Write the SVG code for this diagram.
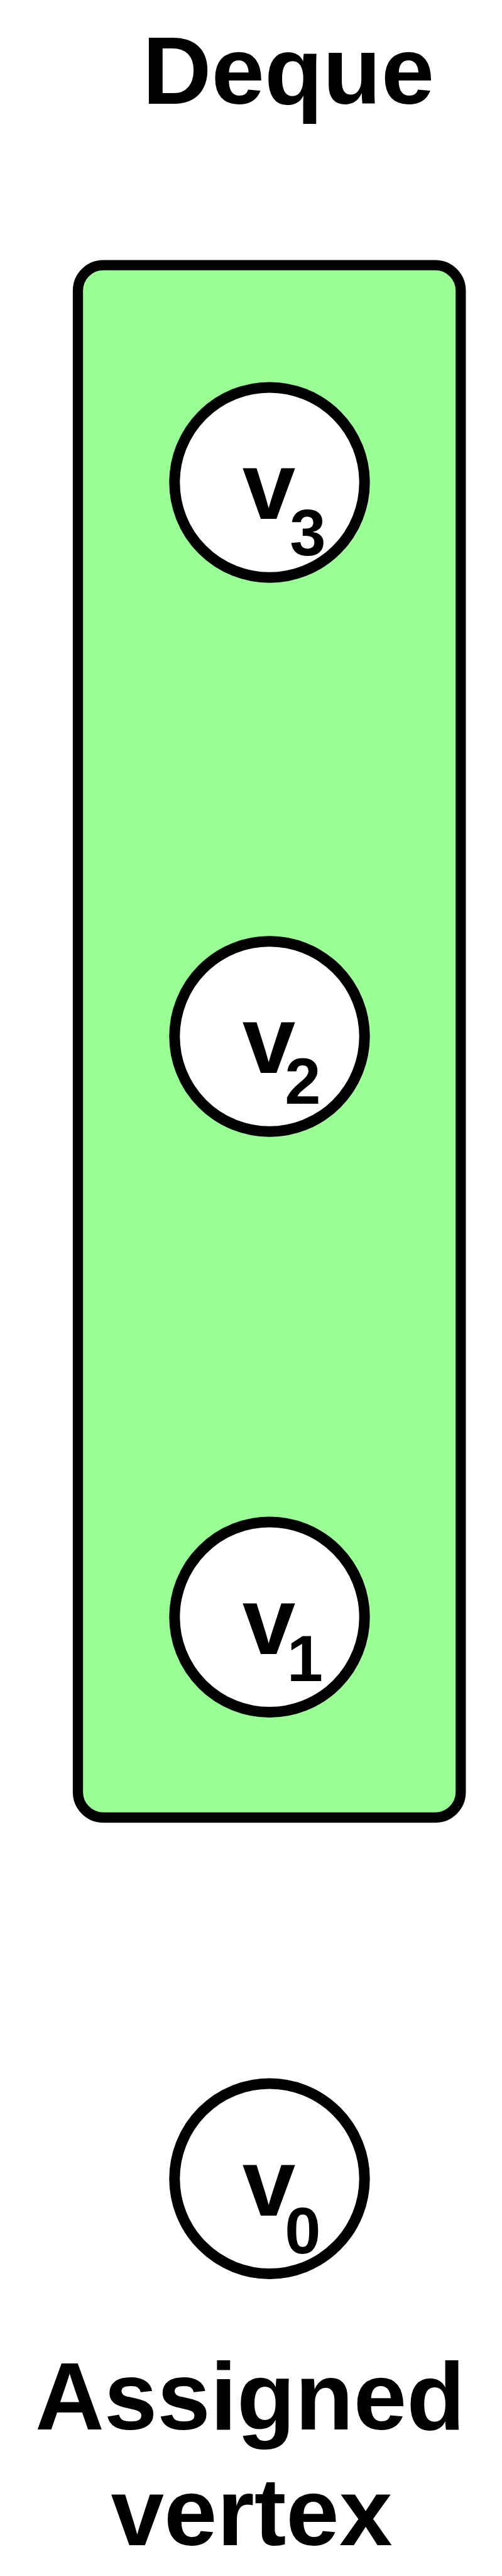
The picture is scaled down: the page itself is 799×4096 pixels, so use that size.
<svg xmlns="http://www.w3.org/2000/svg" width="799" height="4096" viewBox="0 0 799 4096">
<style>
  .lbl { font-family: "Liberation Sans", Arial, sans-serif; font-weight: bold; fill: #000; text-anchor: middle; }
  .big { font-size: 152px; }
  .v { font-size: 152px; }
  .sub { font-size: 103px; }
  .node { fill: #fff; stroke: #000; stroke-width: 17; }
  .deque { fill: #9aff94; stroke: #000; stroke-width: 16.3; }
</style>
<rect width="799" height="4096" fill="#fff"/>
<g id="title">
  <text class="lbl big" x="459" y="164.6">Deque</text>
</g>
<g id="deque">
  <rect class="deque" x="124" y="421.7" width="609.3" height="2468.3" rx="40.5" ry="40.5"/>
</g>
<g id="connectors"></g>
<g id="v3">
  <circle class="node" cx="429" cy="767.1" r="151.2"/>
  <text class="lbl"><tspan class="v" x="428" y="825.2">v</tspan><tspan class="sub" x="490" y="882.7">3</tspan></text>
</g>
<g id="v2">
  <circle class="node" cx="429" cy="1648" r="151.2"/>
  <text class="lbl"><tspan class="v" x="428" y="1706.1">v</tspan><tspan class="sub" x="482" y="1755.1">2</tspan></text>
</g>
<g id="v1">
  <circle class="node" cx="429" cy="2571.3" r="151.2"/>
  <text class="lbl"><tspan class="v" x="428" y="2629.6">v</tspan><tspan class="sub" x="485.5" y="2672.9">1</tspan></text>
</g>
<g id="v0">
  <circle class="node" cx="429" cy="3464.2" r="151.2"/>
  <text class="lbl"><tspan class="v" x="428" y="3522.9">v</tspan><tspan class="sub" x="482" y="3583.4">0</tspan></text>
</g>
<g id="assigned-label">
  <text class="lbl big" x="398" y="3862.9">Assigned</text>
  <text class="lbl big" x="400.5" y="4046.8">vertex</text>
</g>
</svg>
